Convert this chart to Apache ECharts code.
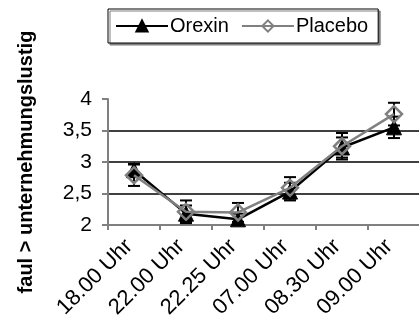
<!DOCTYPE html>
<html><head><meta charset="utf-8">
<script src="https://cdn.jsdelivr.net/npm/echarts@6/dist/echarts.min.js"></script>
<style>html,body{margin:0;padding:0;background:#fff}#c{width:419px;height:323px}</style>
</head><body><div id="c"></div>
<script>
var categories = ['18.00 Uhr','22.00 Uhr','22.25 Uhr','07.00 Uhr','08.30 Uhr','09.00 Uhr'];
var orexin = [2.87, 2.18, 2.09, 2.53, 3.23, 3.55];
var orexinErr = [0.10, 0.13, 0.09, 0.14, 0.16, 0.17];
var placebo = [2.79, 2.21, 2.20, 2.59, 3.25, 3.76];
var placeboErr = [0.17, 0.18, 0.15, 0.17, 0.21, 0.18];
var yTicks = [2, 2.5, 3, 3.5, 4];
var yTitle = 'faul > unternehmungslustig';

var FONT = 'Liberation Sans, Arial, sans-serif';
function errData(vals, errs){ return vals.map(function(v,i){ return [i, v - errs[i], v + errs[i]]; }); }
function renderErr(params, api){
  var lo = api.coord([api.value(0), api.value(1)]);
  var hi = api.coord([api.value(0), api.value(2)]);
  var w = 6;
  var st = {stroke:'#000', lineWidth:2};
  return {type:'group', children:[
    {type:'line', shape:{x1:lo[0],y1:lo[1],x2:hi[0],y2:hi[1]}, style:st},
    {type:'line', shape:{x1:lo[0]-w,y1:lo[1],x2:lo[0]+w,y2:lo[1]}, style:st},
    {type:'line', shape:{x1:hi[0]-w,y1:hi[1],x2:hi[0]+w,y2:hi[1]}, style:st}
  ]};
}
var chart = echarts.init(document.getElementById('c'), null, {renderer:'canvas'});
chart.setOption({
  animation:false,
  backgroundColor:'#fff',
  textStyle:{fontFamily:FONT},
  legend:{
    left:108, top:9, orient:'horizontal',
    data:['Orexin','Placebo'],
    itemWidth:52, itemHeight:14, itemGap:12,
    padding:[7,10,7,7],
    borderColor:'#000', borderWidth:1, backgroundColor:'#fff',
    shadowColor:'#808080', shadowOffsetX:2, shadowOffsetY:2, shadowBlur:0,
    textStyle:{fontFamily:FONT, fontSize:20, color:'#000', padding:[0,0,0,-3]}
  },
  grid:{left:108, right:-1, top:99, bottom:98, containLabel:false, outerBoundsMode:'none'},
  xAxis:{
    type:'category', data:categories, boundaryGap:true,
    axisLine:{lineStyle:{color:'#808080', width:2}},
    axisTick:{show:true, length:5, lineStyle:{color:'#808080', width:2}},
    axisLabel:{rotate:45, interval:0, margin:13, padding:[0,7,0,0], fontSize:22, color:'#000', fontFamily:FONT},
    splitLine:{show:false}
  },
  yAxis:{
    type:'value', min:2, max:4, interval:0.5,
    name:yTitle, nameLocation:'middle', nameRotate:90, nameGap:72,
    nameTextStyle:{fontFamily:FONT, fontSize:20, fontWeight:'bold', color:'#000'},
    axisLine:{show:true, lineStyle:{color:'#808080', width:2}},
    axisTick:{show:true, length:6, lineStyle:{color:'#808080', width:2}},
    axisLabel:{margin:16, fontSize:21, color:'#000', fontFamily:FONT,
      formatter:function(v){ return String(v).replace('.', ','); }},
    splitLine:{show:true, lineStyle:{color:['#000','#000','#000','#000','rgba(0,0,0,0)'], width:1.5}}
  },
  series:[
    {type:'custom', name:'OrexinErr', renderItem:renderErr, data:errData(orexin, orexinErr), z:3, silent:true},
    {type:'custom', name:'PlaceboErr', renderItem:renderErr, data:errData(placebo, placeboErr), z:3, silent:true},
    {type:'line', name:'Orexin', data:orexin, symbol:'triangle', symbolSize:15,
      lineStyle:{color:'#000', width:2.5}, itemStyle:{color:'#000', borderColor:'#000', borderWidth:1}, z:2},
    {type:'line', name:'Placebo', data:placebo, symbol:'diamond', symbolSize:16,
      lineStyle:{color:'#808080', width:2.5}, itemStyle:{color:'rgba(255,255,255,0)', borderColor:'#808080', borderWidth:2.5}, z:4}
  ]
});
</script></body></html>
